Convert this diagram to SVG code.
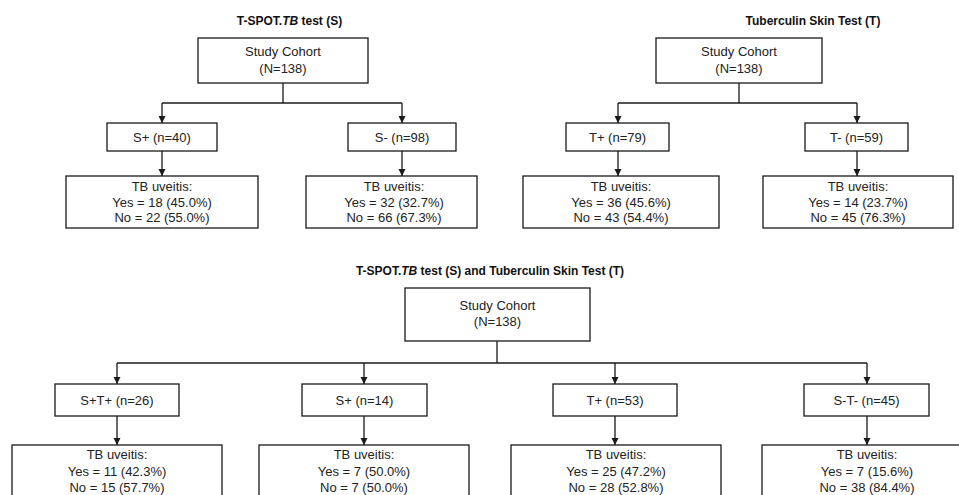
<svg xmlns="http://www.w3.org/2000/svg" width="959" height="495" viewBox="0 0 959 495">
<defs>
<marker id="ah" markerUnits="userSpaceOnUse" markerWidth="8" markerHeight="8" refX="7" refY="3.5" orient="auto">
<path d="M0,0 L7,3.5 L0,7 Z" fill="#1a1a1a"/>
</marker>
<style>
.box{fill:#fff;stroke:#1a1a1a;stroke-width:1.3}
.t{font-family:"Liberation Sans",Arial,sans-serif;font-size:13px;fill:#222;text-anchor:middle}
.title{font-family:"Liberation Sans",Arial,sans-serif;font-size:12px;font-weight:bold;fill:#111;text-anchor:middle}
.ln{fill:none;stroke:#1a1a1a;stroke-width:1.3}
.arr{fill:none;stroke:#1a1a1a;stroke-width:1.3;marker-end:url(#ah)}
</style>
</defs>
<rect width="959" height="495" fill="#fff"/>

<g id="titles">
<text class="title" x="289.5" y="25">T-SPOT.<tspan font-style="italic">TB</tspan> test (S)</text>
<text class="title" x="813" y="25">Tuberculin Skin Test (T)</text>
<text class="title" x="490" y="275">T-SPOT.<tspan font-style="italic">TB</tspan> test (S) and Tuberculin Skin Test (T)</text>
</g>

<g id="connectors">
<!-- S tree -->
<polyline class="ln" points="283,83 283,103"/>
<polyline class="ln" points="162,103 402,103"/>
<line class="arr" x1="162" y1="103" x2="162" y2="123"/>
<line class="arr" x1="402" y1="103" x2="402" y2="123"/>
<line class="arr" x1="162" y1="151" x2="162" y2="176"/>
<line class="arr" x1="402" y1="151" x2="402" y2="176"/>
<!-- T tree -->
<polyline class="ln" points="739,83 739,103"/>
<polyline class="ln" points="618,103 857,103"/>
<line class="arr" x1="618" y1="103" x2="618" y2="123"/>
<line class="arr" x1="857" y1="103" x2="857" y2="123"/>
<line class="arr" x1="618" y1="151" x2="618" y2="176"/>
<line class="arr" x1="857" y1="151" x2="857" y2="176"/>
<!-- combined tree -->
<polyline class="ln" points="497,341 497,363"/>
<polyline class="ln" points="117,363 867,363"/>
<line class="arr" x1="117" y1="363" x2="117" y2="384"/>
<line class="arr" x1="364" y1="363" x2="364" y2="384"/>
<line class="arr" x1="615" y1="363" x2="615" y2="384"/>
<line class="arr" x1="867" y1="363" x2="867" y2="384"/>
<line class="arr" x1="117" y1="416" x2="117" y2="445"/>
<line class="arr" x1="364" y1="416" x2="364" y2="445"/>
<line class="arr" x1="615" y1="416" x2="615" y2="445"/>
<line class="arr" x1="867" y1="416" x2="867" y2="445"/>
</g>

<!-- S tree nodes -->
<g id="s-cohort">
<rect class="box" x="198" y="38" width="170" height="45"/>
<text class="t" x="283" y="56">Study Cohort</text>
<text class="t" x="283" y="73">(N=138)</text>
</g>
<g id="s-pos">
<rect class="box" x="107" y="123" width="110" height="28"/>
<text class="t" x="162" y="142">S+ (n=40)</text>
</g>
<g id="s-neg">
<rect class="box" x="348" y="123" width="108" height="28"/>
<text class="t" x="402" y="142">S- (n=98)</text>
</g>
<g id="s-pos-tb">
<rect class="box" x="66" y="176" width="192" height="52"/>
<text class="t" x="162" y="191">TB uveitis:</text>
<text class="t" x="162" y="207">Yes = 18 (45.0%)</text>
<text class="t" x="162" y="222">No = 22 (55.0%)</text>
</g>
<g id="s-neg-tb">
<rect class="box" x="306" y="176" width="171" height="52"/>
<text class="t" x="394" y="191">TB uveitis:</text>
<text class="t" x="394" y="207">Yes = 32 (32.7%)</text>
<text class="t" x="394" y="222">No = 66 (67.3%)</text>
</g>

<!-- T tree nodes -->
<g id="t-cohort">
<rect class="box" x="656" y="38" width="166" height="45"/>
<text class="t" x="739" y="56">Study Cohort</text>
<text class="t" x="739" y="73">(N=138)</text>
</g>
<g id="t-pos">
<rect class="box" x="566" y="123" width="103" height="28"/>
<text class="t" x="617.5" y="142">T+ (n=79)</text>
</g>
<g id="t-neg">
<rect class="box" x="805" y="123" width="103" height="28"/>
<text class="t" x="856.5" y="142">T- (n=59)</text>
</g>
<g id="t-pos-tb">
<rect class="box" x="523" y="176" width="196" height="52"/>
<text class="t" x="621" y="191">TB uveitis:</text>
<text class="t" x="621" y="207">Yes = 36 (45.6%)</text>
<text class="t" x="621" y="222">No = 43 (54.4%)</text>
</g>
<g id="t-neg-tb">
<rect class="box" x="763" y="176" width="190" height="52"/>
<text class="t" x="858" y="191">TB uveitis:</text>
<text class="t" x="858" y="207">Yes = 14 (23.7%)</text>
<text class="t" x="858" y="222">No = 45 (76.3%)</text>
</g>

<!-- combined tree nodes -->
<g id="c-cohort">
<rect class="box" x="405" y="288" width="185" height="53"/>
<text class="t" x="497.5" y="310">Study Cohort</text>
<text class="t" x="497.5" y="326">(N=138)</text>
</g>
<g id="c-spt">
<rect class="box" x="55" y="384" width="124" height="32"/>
<text class="t" x="117" y="405">S+T+ (n=26)</text>
</g>
<g id="c-sp">
<rect class="box" x="302" y="384" width="125" height="32"/>
<text class="t" x="364.5" y="405">S+ (n=14)</text>
</g>
<g id="c-tp">
<rect class="box" x="553" y="384" width="124" height="32"/>
<text class="t" x="615" y="405">T+ (n=53)</text>
</g>
<g id="c-stn">
<rect class="box" x="804" y="384" width="125" height="32"/>
<text class="t" x="866.5" y="405">S-T- (n=45)</text>
</g>
<g id="c-spt-tb">
<rect class="box" x="12" y="445" width="210" height="70"/>
<text class="t" x="117" y="459">TB uveitis:</text>
<text class="t" x="117" y="476">Yes = 11 (42.3%)</text>
<text class="t" x="117" y="492">No = 15 (57.7%)</text>
</g>
<g id="c-sp-tb">
<rect class="box" x="259" y="445" width="210" height="70"/>
<text class="t" x="364" y="459">TB uveitis:</text>
<text class="t" x="364" y="476">Yes = 7 (50.0%)</text>
<text class="t" x="364" y="492">No = 7 (50.0%)</text>
</g>
<g id="c-tp-tb">
<rect class="box" x="511" y="445" width="210" height="70"/>
<text class="t" x="616" y="459">TB uveitis:</text>
<text class="t" x="616" y="476">Yes = 25 (47.2%)</text>
<text class="t" x="616" y="492">No = 28 (52.8%)</text>
</g>
<g id="c-stn-tb">
<rect class="box" x="762" y="445" width="210" height="70"/>
<text class="t" x="867" y="459">TB uveitis:</text>
<text class="t" x="867" y="476">Yes = 7 (15.6%)</text>
<text class="t" x="867" y="492">No = 38 (84.4%)</text>
</g>
</svg>
